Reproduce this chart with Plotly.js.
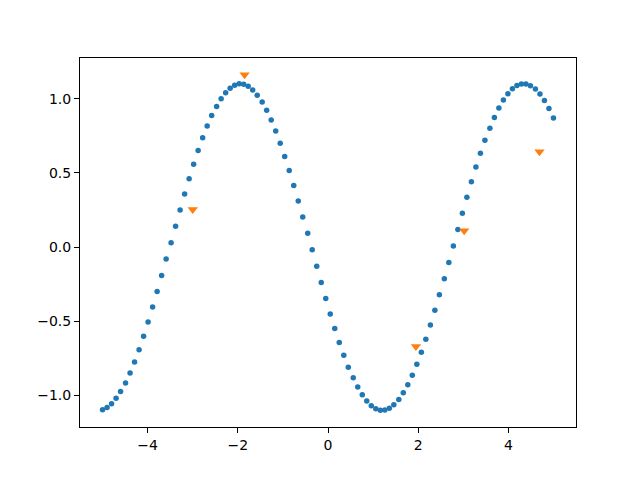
<!DOCTYPE html>
<html>
<head>
<meta charset="utf-8">
<script src="https://cdn.plot.ly/plotly-3.0.1.min.js"></script>
<style>html,body{margin:0;padding:0;background:#fff;}#chart{width:640px;height:480px;}</style>
</head>
<body>
<div id="chart"></div>
<script>
const curveX = [-5.00,-4.90,-4.80,-4.70,-4.60,-4.49,-4.39,-4.29,-4.19,-4.09,
  -3.99,-3.89,-3.79,-3.69,-3.59,-3.48,-3.38,-3.28,-3.18,-3.08,
  -2.98,-2.88,-2.78,-2.68,-2.58,-2.47,-2.37,-2.27,-2.17,-2.07,
  -1.97,-1.87,-1.77,-1.67,-1.57,-1.46,-1.36,-1.26,-1.16,-1.06,
  -0.96,-0.86,-0.76,-0.66,-0.56,-0.45,-0.35,-0.25,-0.15,-0.05,
  0.05,0.15,0.25,0.35,0.45,0.56,0.66,0.76,0.86,0.96,
  1.06,1.16,1.26,1.36,1.46,1.57,1.67,1.77,1.87,1.97,
  2.07,2.17,2.27,2.37,2.47,2.58,2.68,2.78,2.88,2.98,
  3.08,3.18,3.28,3.38,3.48,3.59,3.69,3.79,3.89,3.99,
  4.09,4.19,4.29,4.39,4.49,4.60,4.70,4.80,4.90,5.00];
const curveY = [-1.096,-1.081,-1.056,-1.019,-0.972,-0.915,-0.849,-0.774,-0.691,-0.601,
  -0.505,-0.404,-0.299,-0.191,-0.081,0.030,0.141,0.250,0.357,0.460,
  0.558,0.651,0.737,0.816,0.887,0.948,0.999,1.040,1.071,1.091,
  1.100,1.097,1.083,1.059,1.023,0.977,0.922,0.856,0.782,0.700,
  0.611,0.516,0.415,0.310,0.203,0.093,-0.018,-0.129,-0.239,-0.346,
  -0.450,-0.549,-0.643,-0.729,-0.809,-0.880,-0.942,-0.994,-1.037,-1.068,
  -1.089,-1.099,-1.098,-1.085,-1.062,-1.027,-0.982,-0.927,-0.863,-0.790,
  -0.709,-0.620,-0.525,-0.425,-0.321,-0.213,-0.103,0.008,0.119,0.228,
  0.336,0.440,0.539,0.633,0.720,0.800,0.873,0.937,0.991,1.033,
  1.066,1.088,1.099,1.098,1.087,1.065,1.031,0.987,0.933,0.870];
const sampleX = [-3.00,-1.85,1.95,3.02,4.69];
const sampleY = [0.253,1.161,-0.670,0.111,0.643];
const xTicks = [-4,-2,0,2,4];
const yTicks = [-1.0,-0.5,0.0,0.5,1.0];

const traces = [
  {x: curveX, y: curveY, type: 'scatter', mode: 'markers',
   marker: {color: '#1f77b4', size: 5.5, line: {width: 0}}, showlegend: false},
  {x: sampleX, y: sampleY, type: 'scatter', mode: 'markers',
   marker: {color: '#ff7f0e', symbol: 'triangle-down', size: 9, line: {width: 0}}, showlegend: false}
];
const axisCommon = {
  showgrid: false, zeroline: false, showline: true, mirror: true,
  linecolor: '#000', linewidth: 1, ticks: 'outside', ticklen: 5, tickwidth: 1,
  tickcolor: '#000', tickfont: {family: 'DejaVu Sans', size: 14, color: '#000'}
};
const layout = {
  width: 640, height: 480,
  margin: {l: 80, r: 64, t: 58, b: 53},
  paper_bgcolor: '#fff', plot_bgcolor: '#fff',
  xaxis: Object.assign({}, axisCommon, {range: [-5.5, 5.5], tickmode: 'array', tickvals: xTicks}),
  yaxis: Object.assign({}, axisCommon, {range: [-1.212, 1.274], tickmode: 'array', tickvals: yTicks, tickformat: '.1f'}),
  font: {family: 'DejaVu Sans'}
};
Plotly.newPlot('chart', traces, layout, {displayModeBar: false, staticPlot: true});
</script>
</body>
</html>
